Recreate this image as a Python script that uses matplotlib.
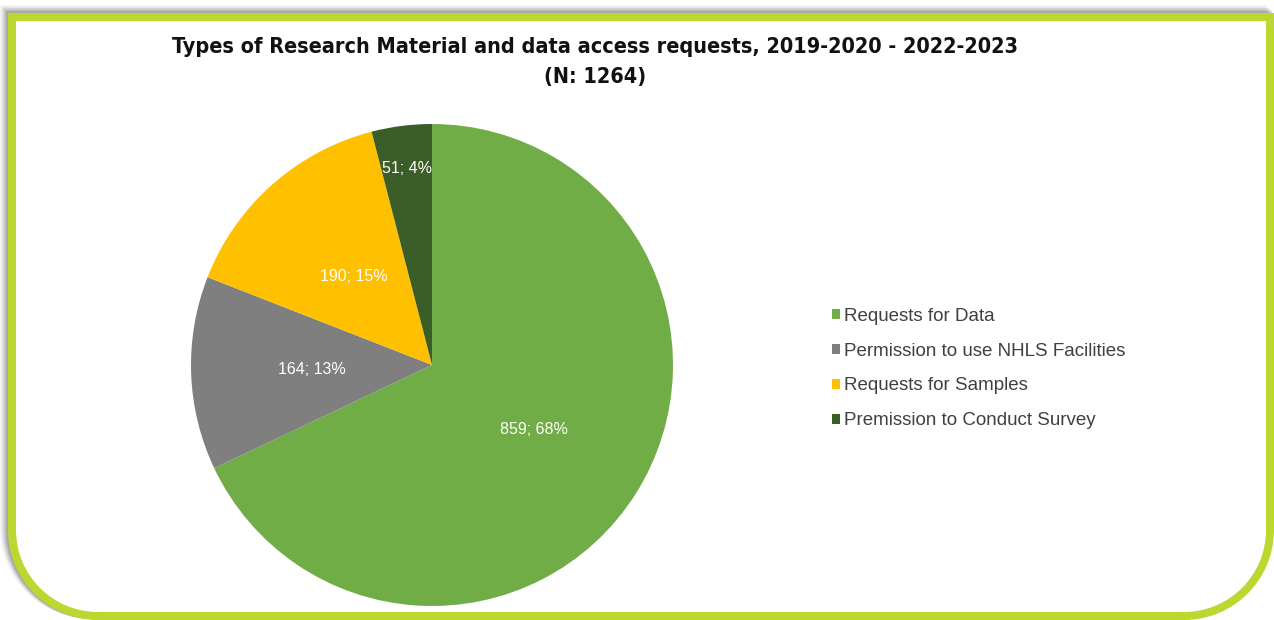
import matplotlib
matplotlib.use("Agg")
import matplotlib.pyplot as plt
import numpy as np
from matplotlib.path import Path
from matplotlib.patches import PathPatch, Patch

# ---- data ----
categories = ["Requests for Data", "Permission to use NHLS Facilities",
              "Requests for Samples", "Premission to Conduct Survey"]
values = [859, 164, 190, 51]
percents = [68, 13, 15, 4]
colors = ["#70AD47", "#7F7F7F", "#FFC000", "#3B5E29"]
title = "Types of Research Material and data access requests, 2019-2020 - 2022-2023\n(N: 1264)"

W, H = 1274, 620
fig = plt.figure(figsize=(W / 100, H / 100), dpi=100)
fig.patch.set_facecolor("white")

# ---- background frame ----
bg = fig.add_axes([0, 0, 1, 1])
bg.set_xlim(0, W)
bg.set_ylim(H, 0)
bg.axis("off")

def frame_path(l, t, r, b, rad):
    k = 0.5523
    verts = [(l, t), (r, t), (r, b - rad),
             (r, b - rad + k * rad), (r - rad + k * rad, b), (r - rad, b),
             (l + rad, b),
             (l + rad - k * rad, b), (l, b - rad + k * rad), (l, b - rad),
             (l, t)]
    codes = [Path.MOVETO, Path.LINETO, Path.LINETO,
             Path.CURVE4, Path.CURVE4, Path.CURVE4,
             Path.LINETO,
             Path.CURVE4, Path.CURVE4, Path.CURVE4,
             Path.CLOSEPOLY]
    return Path(verts, codes)

# soft shadow
for i, a in enumerate([0.06, 0.09, 0.12, 0.16, 0.2]):
    off = 8 - i * 1.5
    p = frame_path(12 - off, 17 - off, 1270 - off, 616 - off * 0.2, 86)
    bg.add_patch(PathPatch(p, facecolor="none", edgecolor="#555555",
                           lw=8 * 0.72, alpha=a, zorder=1))
bg.add_patch(PathPatch(frame_path(12, 17, 1270, 616, 86), facecolor="white",
                       edgecolor="#BED630", lw=8 * 0.72, zorder=2))

# ---- title ----
fig.text(595 / W, 1 - 62 / H, title, ha="center", va="center",
         fontsize=15.5, fontweight="bold", color="#111111",
         family=["DejaVu Sans"], fontstretch="condensed", linespacing=1.6)

# ---- pie ----
cx, cy, R = 432, 365, 241
ax = fig.add_axes([(cx - R) / W, (H - cy - R) / H, 2 * R / W, 2 * R / H])
wedges, _ = ax.pie(values, colors=colors, startangle=90, counterclock=False,
                   radius=1.0, wedgeprops=dict(linewidth=0))
ax.set_xlim(-1, 1)
ax.set_ylim(-1, 1)
ax.set_aspect("equal")

label_dist = [0.5, 0.5, 0.49, 0.82]
for w, v, pc, d in zip(wedges, values, percents, label_dist):
    ang = np.deg2rad((w.theta1 + w.theta2) / 2)
    ax.text(d * np.cos(ang), d * np.sin(ang), f"{v}; {pc}%", ha="center",
            va="center", color="white", fontsize=11.5,
            family=["Liberation Sans", "DejaVu Sans"])

# ---- legend ----
handles = [Patch(facecolor=c, edgecolor="none") for c in colors]
leg = fig.legend(handles, categories, loc="upper left",
                 bbox_to_anchor=(815 / W, 1 - 291 / H), frameon=False,
                 handlelength=0.45, handleheight=0.45,
                 handletextpad=0.2, labelspacing=0.95,
                 prop=dict(family=["Liberation Sans", "DejaVu Sans"], size=13.5))
for t in leg.get_texts():
    t.set_color("#404040")

fig.savefig("out.png", dpi=100)
